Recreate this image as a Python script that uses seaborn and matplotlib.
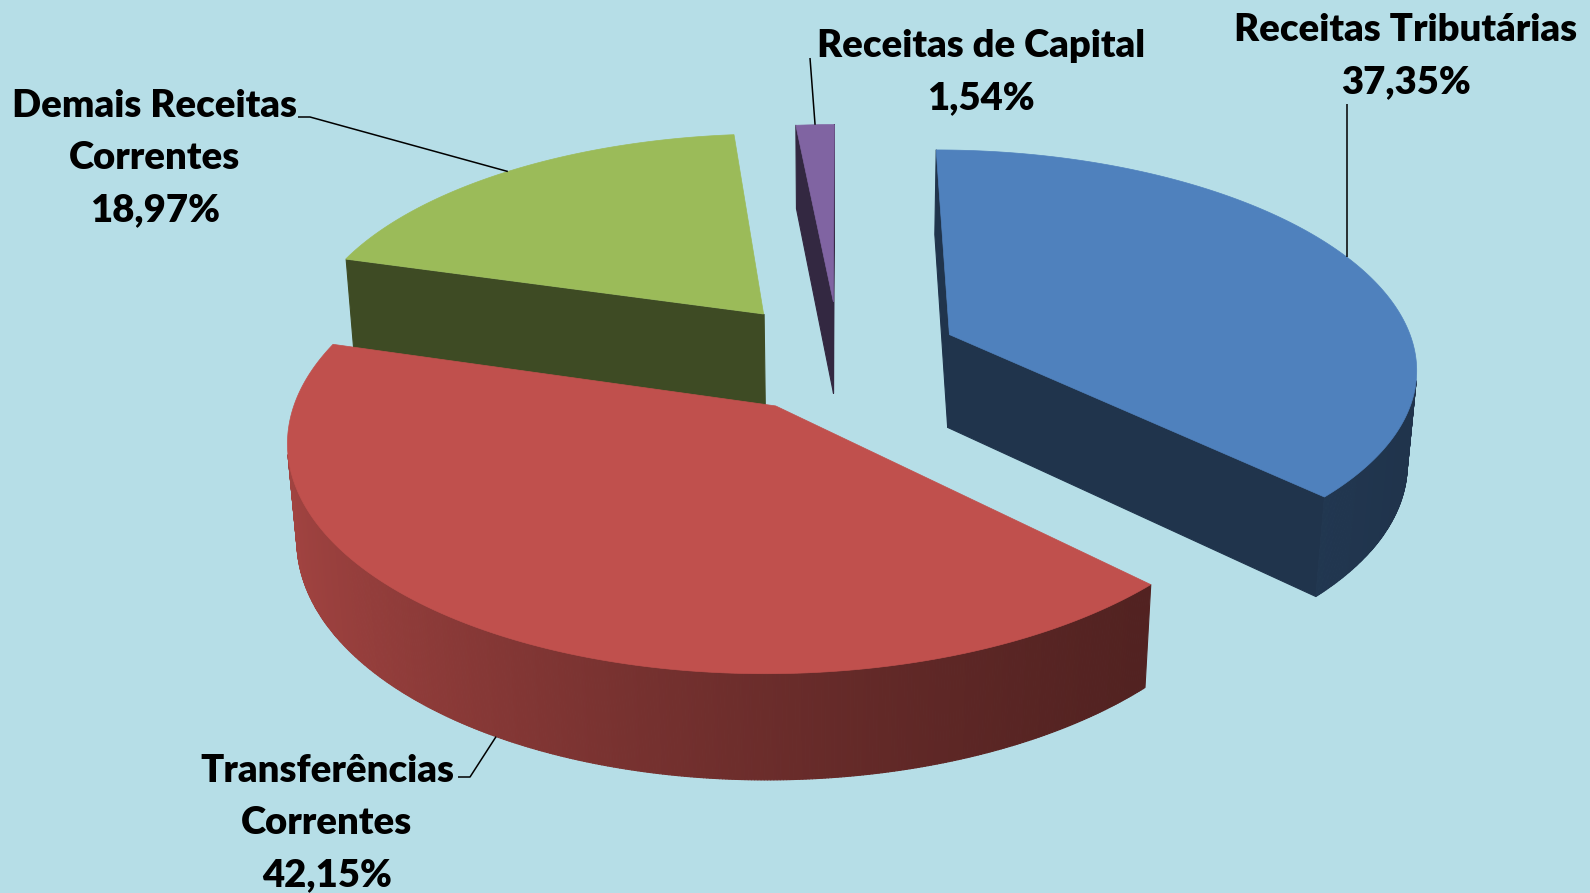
import numpy as np
import matplotlib.pyplot as plt
import seaborn as sns
from matplotlib.collections import PolyCollection
from matplotlib.colors import to_rgb

# ------------------------------------------------------------------
# Data
# ------------------------------------------------------------------
categories = ['Receitas Tributárias', 'Transferências Correntes',
              'Demais Receitas Correntes', 'Receitas de Capital']
label_lines = [['Receitas Tributárias'],
               ['Transferências', 'Correntes'],
               ['Demais Receitas', 'Correntes'],
               ['Receitas de Capital']]
shares = [37.35, 42.15, 18.97, 1.54]
slice_colors = ['#4F81BD', '#C0504D', '#9BBB59', '#8064A2']

BG = '#B6DEE7'

sns.set_theme(style='white', rc={'figure.facecolor': BG, 'axes.facecolor': BG})
plt.rcParams['font.family'] = ['Lato', 'DejaVu Sans']

# ------------------------------------------------------------------
# 3D view (pie of unit radius, projected into pixel space)
# ------------------------------------------------------------------
CX, CY = 839, 356
SCALE = 467
ELEV = np.radians(27.5)
DIST = 6.43
EXPLODE = 0.26
HEIGHT = 0.23
cos_e, sin_e = np.cos(ELEV), np.sin(ELEV)
CAM = np.array([0.0, -DIST * cos_e, DIST * sin_e])


def project(x, y, z):
    depth = DIST + y * cos_e - z * sin_e
    sx = x * DIST / depth
    sy = (y * sin_e + z * cos_e) * DIST / depth
    return CX + SCALE * sx, CY - SCALE * sy


def pts(x, y, z):
    px, py = project(np.asarray(x, float), np.asarray(y, float), np.asarray(z, float))
    return np.column_stack([px, py])


def shade(rgb, f):
    return tuple(np.clip(np.array(rgb) * f, 0, 1))


fig = plt.figure(figsize=(15.9, 8.93), dpi=100)
ax = fig.add_axes([0, 0, 1, 1])
ax.set_xlim(0, 1590)
ax.set_ylim(893, 0)
ax.axis('off')

# slices start at 12 o'clock and run clockwise
ends = 90 - 3.6 * np.concatenate([[0], np.cumsum(shares)[:-1]])
starts = ends - 3.6 * np.array(shares)
mids = (starts + ends) / 2

anchors = {}
order = np.argsort(-np.sin(np.radians(mids)))   # back to front
for i in order:
    a, b, m = np.radians([starts[i], ends[i], mids[i]])
    ox, oy = EXPLODE * np.cos(m), EXPLODE * np.sin(m)
    base = to_rgb(slice_colors[i])
    n = max(int(abs(np.degrees(b - a)) * 3), 12)
    th = np.linspace(a, b, n)
    rx, ry = ox + np.cos(th), oy + np.sin(th)

    polys, cols = [], []
    # cut faces
    for ang, nx, ny in [(a, np.sin(a), -np.cos(a)), (b, -np.sin(b), np.cos(b))]:
        if nx * (CAM[0] - ox) + ny * (CAM[1] - oy) > 0:
            ex, ey = ox + np.cos(ang), oy + np.sin(ang)
            polys.append(pts([ox, ex, ex, ox], [oy, ey, ey, oy],
                             [0, 0, -HEIGHT, -HEIGHT]))
            cols.append(shade(base, 0.4))
    # outer wall, shaded lighter on the left
    tm = (th[:-1] + th[1:]) / 2
    vis = (np.cos(tm) * (CAM[0] - ox - np.cos(tm))
           + np.sin(tm) * (CAM[1] - oy - np.sin(tm))) > 0
    for j in np.where(vis)[0]:
        polys.append(pts([rx[j], rx[j + 1], rx[j + 1], rx[j]],
                         [ry[j], ry[j + 1], ry[j + 1], ry[j]],
                         [0, 0, -HEIGHT, -HEIGHT]))
        f = 0.4 + 0.45 * ((1 - np.cos(tm[j])) / 2) ** 1.5
        cols.append(shade(base, f))
    ax.add_collection(PolyCollection(polys, facecolors=cols, edgecolors=cols,
                                     linewidths=0.8))
    # top face
    top = pts(np.r_[ox, rx], np.r_[oy, ry], np.zeros(n + 1))
    ax.add_patch(plt.Polygon(top, closed=True, facecolor=base,
                             edgecolor=base, linewidth=0.5))

    z_anchor = -HEIGHT if np.sin(m) < -0.5 else 0
    anchors[i] = pts([ox + np.cos(m)], [oy + np.sin(m)], [z_anchor])[0]

# ------------------------------------------------------------------
# Labels and leader lines
# ------------------------------------------------------------------
label_pos = [(1406, 41), (327, 782), (155, 117), (981, 57)]
line_step = 52
leader_knees = [[(anchors[0][0], 104)],
                [(458, 777), (470, 777)],
                [(298, 117), (310, 117)],
                [(810, 58)]]

for i, name in enumerate(categories):
    pct = f'{shares[i]:.2f}'.replace('.', ',') + '%'
    lines = label_lines[i] + [pct]
    x0, y0 = label_pos[i]
    for k, line in enumerate(lines):
        ax.text(x0, y0 + k * line_step, line, ha='center', va='baseline',
                fontsize=27.5, fontweight='heavy', color='black')
    path = np.array(leader_knees[i] + [tuple(anchors[i])])
    ax.plot(path[:, 0], path[:, 1], color='black', lw=1.1,
            solid_capstyle='butt')

fig.savefig('out.png', dpi=100, facecolor=BG)
